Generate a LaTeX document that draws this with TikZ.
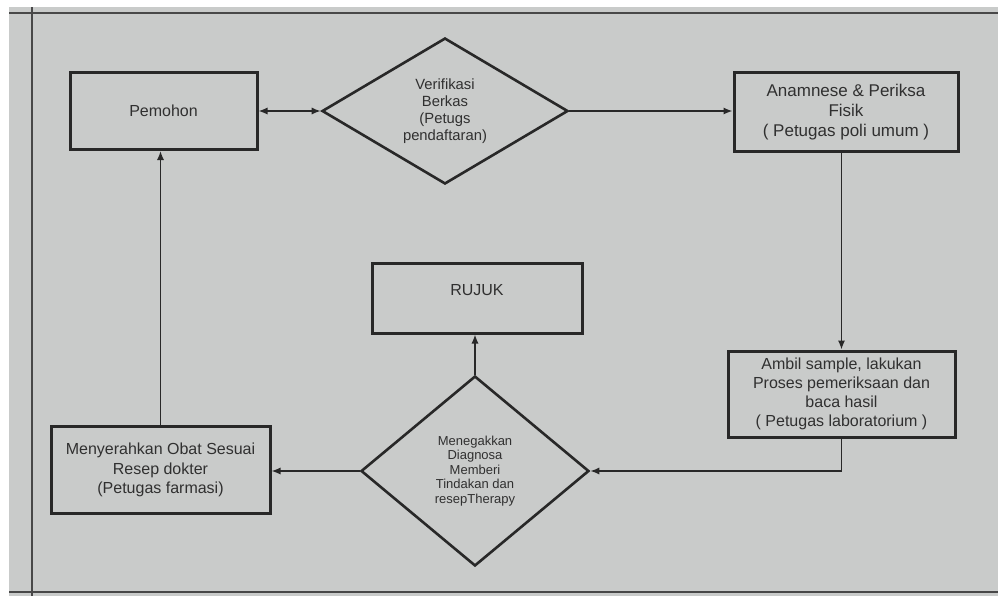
\documentclass[tikz,border=0pt]{standalone}
\usepackage{fontspec}
\setmainfont{Liberation Sans}
\usetikzlibrary{shapes.geometric,arrows.meta}
\definecolor{paper}{RGB}{201,203,202}
\definecolor{ink}{RGB}{40,40,40}
\definecolor{txt}{RGB}{48,48,48}

\begin{document}
\begin{tikzpicture}
	[x=0.5pt,y=-0.5pt,>={Latex[length=4.5pt,width=3.6pt]},
	every node/.style={text=txt,align=center,inner sep=0pt},
	kotak/.style={rectangle,draw=ink,line width=1.5pt,font=\fontsize{8}{9.6}\selectfont},
	wajik/.style={diamond,draw=ink,line width=1.3pt},
	panah/.style={draw=ink,line width=0.8pt,->}]
	\useasboundingbox (0,0) rectangle (998,596);
	\fill[white] (0,0) rectangle (998,596);
	\fill[paper] (9,7) rectangle (998,596);
	% garis tepi kertas
	\draw[ink!85,line width=0.6pt] (9,13) -- (998,13) (32,7) -- (32,596) (9,592) -- (998,592);
	
	\node[kotak,minimum width=93.5pt,minimum height=38.5pt] (pemohon) at (163.5,111) {Pemohon};
	\node[wajik,minimum width=123pt,minimum height=73pt,aspect=1.68,font=\fontsize{7.4}{8.5}\selectfont] (verif) at (445,111)
		{Verifikasi\\Berkas\\(Petugs\\pendaftaran)};
	\node[kotak,minimum width=112pt,minimum height=39.5pt,font=\fontsize{8.5}{10}\selectfont] (anam) at (846,112)
		{Anamnese \& Periksa\\Fisik\\( Petugas poli umum )};
	\node[kotak,minimum width=113.5pt,minimum height=43pt] (ambil) at (841.5,394)
		{Ambil sample, lakukan\\Proses pemeriksaan dan\\baca hasil\\( Petugas laboratorium )};
	\node[kotak,minimum width=105pt,minimum height=35pt,label={[yshift=4pt,font=\fontsize{8}{9.6}\selectfont]center:RUJUK}] (rujuk) at (477,298) {};
	\node[wajik,minimum width=114pt,minimum height=95pt,aspect=1.2,font=\fontsize{6.5}{7.2}\selectfont] (diag) at (475,471)
		{Menegakkan\\Diagnosa\\Memberi\\Tindakan dan\\resepTherapy};
	\node[kotak,minimum width=109.5pt,minimum height=43.5pt] (meny) at (160.5,470)
		{Menyerahkan Obat Sesuai\\Resep dokter\\(Petugas farmasi)};
	
	\draw[panah,<->] (pemohon) -- (verif);
	\foreach \from/\to in {verif.east/anam.west,diag.west/meny.east}
		\draw[panah] (\from) -- (\from -| \to);
	\foreach \from/\to in {diag.north/rujuk.south,meny.north/pemohon.south}
		\draw[panah] (\from) -- (\from |- \to);
	\draw[panah] (anam.south -| ambil.north) -- (ambil.north);
	\draw[panah] (ambil.south) |- (diag.east);
\end{tikzpicture}
\end{document}
